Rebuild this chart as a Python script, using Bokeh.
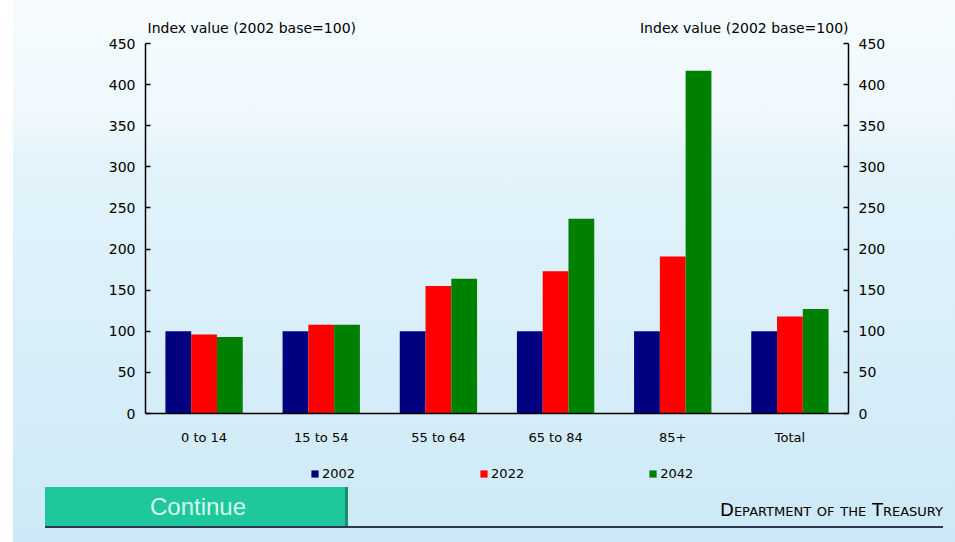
from bokeh.plotting import figure
from bokeh.layouts import column
from bokeh.models import (FactorRange, Range1d, LinearAxis, FixedTicker, Label,
                          ColumnDataSource, Div)
from bokeh.transform import dodge
from bokeh.embed import file_html
from bokeh.resources import INLINE

# ---------------- data ----------------
categories = ["0 to 14", "15 to 54", "55 to 64", "65 to 84", "85+", "Total"]
years = ["2002", "2022", "2042"]
values_2002 = [100, 100, 100, 100, 100, 100]
values_2022 = [96, 108, 155, 173, 191, 118]
values_2042 = [93, 108, 164, 237, 417, 127]
y_ticks = [0, 50, 100, 150, 200, 250, 300, 350, 400, 450]
axis_title = "Index value (2002 base=100)"
button_text = "Continue"
footer_text = "Department of the Treasury"

colors = ["#000080", "#ff0000", "#008000"]
FONT = "DejaVu Sans"
BTN_FONT = "Liberation Sans"

W = 955
FRAME_L, FRAME_W = 145, 703
TOP_H = 35          # strip holding the two axis titles (image y 0..35)
CH_TOP = 8          # chart frame top at image y 43
FH = 370            # frame bottom at image y 413
CH_BOT = 36         # x-axis labels, chart ends at image y 449
LEG_H = 33          # legend strip, image y 449..482
BOT_H = 542 - (TOP_H + CH_TOP + FH + CH_BOT + LEG_H)

common = dict(output_backend="svg", toolbar_location=None, tools="",
              border_fill_color=None, background_fill_color=None,
              outline_line_color=None)

# ---------------- top strip: axis titles ----------------
top = figure(width=W, height=TOP_H, x_range=Range1d(0, 1), y_range=Range1d(0, 1),
             min_border=0, x_axis_location=None, y_axis_location=None, **common)
top.grid.visible = False
top.add_layout(Label(x=147 - FRAME_L, y=TOP_H - 27, x_units="screen", y_units="screen",
                     text=axis_title, text_align="left", text_baseline="middle",
                     text_font=FONT, text_font_size="14px", text_color="black"))
top.add_layout(Label(x=FRAME_W, y=TOP_H - 27, x_units="screen", y_units="screen",
                     text=axis_title, text_align="right", text_baseline="middle",
                     text_font=FONT, text_font_size="14px", text_color="black"))

# ---------------- chart ----------------
src = ColumnDataSource(dict(cat=categories, y2002=values_2002,
                            y2022=values_2022, y2042=values_2042))

p = figure(x_range=FactorRange(*categories), y_range=Range1d(0, 450),
           frame_width=FRAME_W, frame_height=FH,
           min_border_left=FRAME_L, min_border_right=W - FRAME_L - FRAME_W,
           min_border_top=CH_TOP, min_border_bottom=CH_BOT, **common)

bw = 0.22
for i, (yr, col) in enumerate(zip(years, colors)):
    p.vbar(x=dodge("cat", (i - 1) * bw, range=p.x_range), top="y" + yr,
           width=bw, source=src, fill_color=col, line_color=None)

p.xgrid.grid_line_color = None
p.ygrid.grid_line_color = None

def style_y(ax):
    ax.ticker = FixedTicker(ticks=y_ticks)
    ax.major_tick_in = 5
    ax.major_tick_out = 0
    ax.minor_tick_line_color = None
    ax.axis_line_width = 1.5
    ax.major_tick_line_width = 1.5
    ax.axis_line_color = "black"
    ax.major_label_standoff = 10
    ax.major_label_text_font = FONT
    ax.major_label_text_font_size = "14px"
    ax.major_label_text_color = "black"

style_y(p.yaxis[0])
ax_r = LinearAxis()
style_y(ax_r)
p.add_layout(ax_r, "right")

xa = p.xaxis[0]
xa.major_tick_line_color = None
xa.axis_line_width = 1.5
xa.axis_line_color = "black"
xa.major_label_standoff = 10
xa.major_label_text_font = FONT
xa.major_label_text_font_size = "13px"
xa.major_label_text_color = "black"

# ---------------- legend strip ----------------
leg = figure(width=W, height=LEG_H, x_range=Range1d(0, 1), y_range=Range1d(0, 1),
             min_border=0, x_axis_location=None, y_axis_location=None, **common)
leg.grid.visible = False
for yr, col in zip(years, colors):
    # zero-height key renderer placed outside the strip's range: only its legend key shows
    leg.vbar(x=[-5], top=[0], bottom=[0], width=0.01, fill_color=col,
             line_color=None, legend_label=yr)

lg = leg.legend[0]
lg.orientation = "horizontal"
lg.location = (310 - FRAME_L, 1)
lg.padding = 0
lg.margin = 0
lg.spacing = 124
lg.glyph_width = 9
lg.glyph_height = 9
lg.label_standoff = 3
lg.label_height = 14
lg.label_text_font = FONT
lg.label_text_font_size = "13px"
lg.label_text_color = "black"
lg.background_fill_alpha = 0
lg.border_line_color = None

# ---------------- bottom strip: button, rule, footer ----------------
bottom_html = (
    f'<div style="position:relative;width:{W}px;height:{BOT_H}px;">'
    '<div style="position:absolute;left:45px;top:5px;width:303px;height:40px;'
    'background:#1fc89c;border-right:3px solid #16916f;"></div>'
    '<div style="position:absolute;left:45px;top:5px;width:306px;height:40px;'
    'line-height:40px;text-align:center;color:#d8f6ee;'
    f'font-family:\'{BTN_FONT}\';font-size:24px;">{button_text}</div>'
    '<div style="position:absolute;left:45px;top:44px;width:898px;height:2px;'
    'background:#2b3750;"></div>'
    '<div style="position:absolute;right:12px;top:18px;color:black;line-height:20px;'
    f'font-family:\'{FONT}\';font-size:18px;font-variant:small-caps;'
    f'white-space:nowrap;">{footer_text}</div>'
    '</div>'
)
bot = Div(text=bottom_html, width=W, height=BOT_H, margin=0)

layout = column(top, p, leg, bot, spacing=0,
                styles={"background": "linear-gradient(to right, #ffffff 13px, rgba(255,255,255,0) 13px), "
                                      "linear-gradient(to bottom, #f6fcfe 0%, #eef8fd 22%, "
                                      "#e3f3fb 30%, #d9eff9 60%, #cde9f7 100%)"})

open("out.html", "w").write(file_html(layout, INLINE))
